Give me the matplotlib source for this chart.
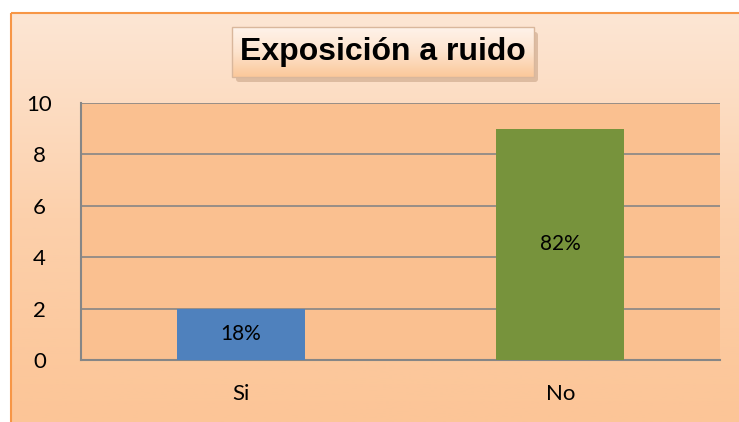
import numpy as np
import matplotlib.pyplot as plt
from matplotlib.patches import FancyBboxPatch, Rectangle
from matplotlib.colors import LinearSegmentedColormap

categories = ['Si', 'No']
values = [2, 9]
pct_labels = ['18%', '82%']
bar_colors = ['#4f81bd', '#77933c']
title = 'Exposición a ruido'

W, H = 739, 422
fig = plt.figure(figsize=(W / 100, H / 100), dpi=100)

# background with orange frame and vertical gradient
bg = fig.add_axes([0, 0, 1, 1])
bg.set_xlim(0, W)
bg.set_ylim(H, 0)
bg.axis('off')
grad = LinearSegmentedColormap.from_list('g', ['#fde6d4', '#fcd0ab', '#fcc597'])
bg.imshow(np.linspace(0, 1, 200).reshape(-1, 1), cmap=grad, aspect='auto',
          extent=[11, W, H, 13], zorder=0)
bg.add_patch(Rectangle((11, 13), W, H, fill=False, edgecolor='#f79646', lw=1.5, zorder=1))

# title box with shadow
bg.add_patch(FancyBboxPatch((236, 32), 302, 50, boxstyle='round,pad=0,rounding_size=3',
                            facecolor='#c9a487', edgecolor='none', alpha=0.6, zorder=2))
tgrad = LinearSegmentedColormap.from_list('t', ['#fff3ea', '#fde3cd', '#fbc89a'])
bg.imshow(np.linspace(0, 1, 100).reshape(-1, 1), cmap=tgrad, aspect='auto',
          extent=[232, 534, 77, 27], zorder=3)
bg.add_patch(Rectangle((232, 27), 302, 50, fill=False, edgecolor='#d9b79c', lw=1, zorder=4))
bg.text(383, 52, title, ha='center', va='center', fontsize=23, fontweight='bold',
        family='Liberation Sans', color='black', zorder=5)

# plot area
ax = fig.add_axes([81 / W, 1 - 360 / H, (720 - 81) / W, (360 - 103) / H])
ax.set_facecolor('#fac090')
x = np.arange(len(categories))
bars = ax.bar(x, values, width=0.4, color=bar_colors, zorder=3)
for b, lab in zip(bars, pct_labels):
    ax.text(b.get_x() + b.get_width() / 2, b.get_height() / 2, lab, ha='center', va='center',
            fontsize=15, family='Lato', zorder=4)

ax.set_xlim(-0.5, 1.5)
ax.set_ylim(0, 10)
ax.set_yticks(range(0, 11, 2))
ax.set_xticks(x)
ax.set_xticklabels(categories)
ax.yaxis.grid(True, color='#868686', lw=1.2)
ax.set_axisbelow(True)
for s in ['top', 'right']:
    ax.spines[s].set_visible(False)
for s in ['left', 'bottom']:
    ax.spines[s].set_color('#868686')
    ax.spines[s].set_linewidth(1.5)
ax.tick_params(length=0, labelsize=16)
for t in ax.get_xticklabels() + ax.get_yticklabels():
    t.set_family('Lato')
ax.tick_params(axis='x', pad=17)
ax.tick_params(axis='y', pad=30)
for t in ax.get_yticklabels():
    t.set_horizontalalignment('center')

fig.savefig('out.png', dpi=100)
